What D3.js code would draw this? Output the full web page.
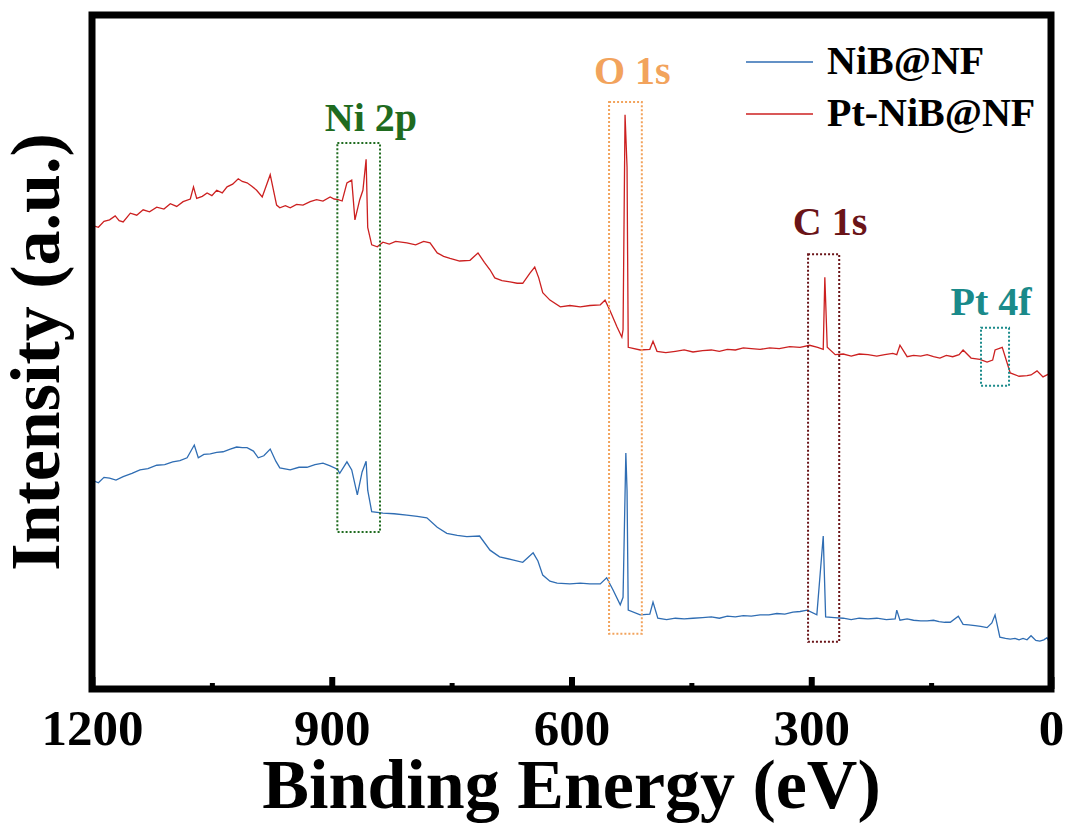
<!DOCTYPE html>
<html>
<head>
<meta charset="utf-8">
<script src="https://cdnjs.cloudflare.com/ajax/libs/d3/7.8.5/d3.min.js"></script>
<style>
  body { margin: 0; background: #fff; }
  svg text { font-family: "Liberation Serif", Tinos, "DejaVu Serif", "Noto Serif", serif; font-weight: bold; }
</style>
</head>
<body>
<div id="chart"></div>
<script>
// XPS survey data (binding energy in eV, intensity in a.u.)
var redEnergy = [1200, 1192, 1185, 1178, 1171, 1166, 1161, 1152, 1144, 1136, 1128, 1119, 1110, 1102, 1094, 1086,
  1077, 1073, 1069, 1062, 1056, 1050, 1044, 1037, 1031, 1024, 1017, 1012, 1006, 1000, 994, 987, 977, 969, 965,
  958, 952, 944, 936, 927, 919, 911, 902, 897, 892, 887, 881, 875, 871, 865, 861, 857, 855, 850, 843, 836, 828,
  820, 806, 795, 785, 777, 768, 760, 752, 740, 727, 717, 709, 702, 696, 687, 677, 668, 661, 652, 646, 641, 636,
  627, 614, 602, 589, 577, 564, 558, 552, 543, 537, 535.5, 533, 530.5, 529, 514, 502, 498, 493, 482, 470, 459, 448,
  436, 425, 415, 405, 395, 385, 375, 364, 352, 340, 327, 314, 302, 292, 285, 283, 280, 270, 260, 250, 240, 229, 218,
  208, 198, 193, 189, 180, 172, 163, 155, 147, 139, 131, 123, 115, 110, 100, 89, 80, 73, 70, 61, 51, 40, 30, 25,
  17.5, 10, 5, 0];
var redIntensity = [68.8, 68.5, 69.4, 69.6, 70.2, 69.5, 69.3, 70.6, 70.3, 71.1, 70.8, 71.5, 71.2, 72.0, 71.6, 72.3,
  72.7, 74.5, 72.8, 73.1, 73.6, 73.2, 74.0, 73.6, 74.5, 74.9, 75.7, 75.3, 75.1, 74.6, 74.0, 73.0, 76.3, 71.8, 71.4,
  71.7, 71.4, 71.9, 71.8, 72.3, 72.6, 72.4, 73.0, 72.7, 72.6, 72.4, 75.1, 75.5, 69.6, 72.6, 74.0, 78.6, 68.5, 65.9,
  65.6, 66.3, 66.0, 66.4, 66.2, 65.9, 66.4, 66.2, 64.7, 64.2, 63.9, 63.5, 63.6, 64.7, 63.3, 62.2, 61.0, 60.6, 60.4,
  60.2, 60.2, 61.7, 62.6, 61.0, 58.8, 57.7, 56.7, 56.9, 56.7, 56.9, 57.0, 57.7, 56.2, 53.7, 52.2, 53.3, 85.2, 77.4,
  50.7, 50.3, 50.4, 51.6, 50.1, 49.9, 50.1, 50.3, 50.0, 50.2, 50.3, 50.1, 50.4, 50.3, 50.6, 50.5, 50.4, 50.6, 50.5,
  50.8, 50.7, 51.0, 50.7, 50.4, 61.1, 50.7, 49.6, 49.7, 49.4, 49.7, 49.6, 49.4, 49.6, 49.8, 49.6, 51.0, 49.3, 49.5,
  49.4, 49.6, 49.3, 49.1, 49.5, 49.3, 49.6, 50.3, 49.1, 48.9, 48.5, 48.8, 50.3, 50.7, 46.9, 46.4, 46.5, 46.6, 47.2,
  46.3, 46.6, 46.9, 45.5];

var blueEnergy = [1200, 1192, 1185, 1178, 1170, 1161, 1150, 1140, 1130, 1119, 1109, 1099, 1090, 1081, 1072, 1067,
  1060, 1052, 1044, 1036, 1027, 1019, 1012, 1006, 998, 992, 985, 977, 970, 965, 952, 941, 931, 921, 911, 902, 893,
  890, 881, 875, 868, 862, 857, 855, 850, 836, 822, 806, 793, 781, 768, 756, 743, 731, 715, 702, 690, 675, 661, 648,
  642, 636, 627, 618, 602, 589, 577, 564, 556, 548, 539, 535.5, 532, 530.5, 529, 514, 502, 498, 492, 481, 470, 459,
  448, 436, 425, 415, 405, 395, 385, 375, 364, 353, 343, 333, 323, 314, 305, 293, 285, 282, 271, 260, 250, 240, 229,
  218, 206, 195, 193, 189, 180, 172, 163, 155, 147, 140, 133, 126, 116, 110, 103, 95, 88, 80, 74, 70, 64, 57, 51,
  45, 40, 35, 30, 25, 19, 14, 9, 5, 0];
var blueIntensity = [31.0, 30.6, 31.4, 31.3, 31.0, 31.5, 32.0, 32.5, 32.7, 33.2, 33.3, 33.7, 33.9, 34.3, 36.2, 34.3,
  34.8, 34.9, 35.1, 35.2, 35.6, 35.9, 35.8, 35.8, 35.3, 34.3, 34.6, 35.6, 33.8, 32.8, 32.5, 32.9, 32.9, 33.3, 33.5,
  33.1, 32.6, 32.0, 33.7, 32.5, 28.8, 32.2, 33.8, 29.5, 26.3, 26.1, 26.0, 25.8, 25.6, 25.4, 24.0, 23.1, 22.8, 22.6,
  22.7, 20.6, 19.6, 19.2, 18.8, 20.2, 19.0, 16.9, 16.0, 15.7, 15.6, 15.7, 15.6, 15.6, 16.5, 14.7, 12.5, 13.6, 35.0,
  29.5, 11.7, 11.0, 11.1, 12.9, 10.5, 10.3, 10.5, 10.4, 10.5, 10.6, 10.7, 10.5, 10.8, 10.7, 10.9, 10.8, 11.0, 11.0,
  11.2, 11.1, 11.4, 11.5, 11.7, 11.0, 22.7, 10.7, 10.6, 10.5, 10.3, 10.5, 10.4, 10.5, 10.3, 10.4, 11.7, 10.2, 10.4,
  10.2, 10.1, 10.1, 10.2, 10.0, 9.9, 9.9, 10.8, 9.6, 9.5, 9.4, 9.3, 9.1, 9.8, 11.0, 7.7, 7.5, 7.4, 7.5, 7.3, 7.5,
  7.3, 7.9, 7.2, 7.1, 7.3, 7.6, 6.5];

var seriesNames = ["NiB@NF", "Pt-NiB@NF"];
var seriesColors = ["#2f6db3", "#cc2020"];

var majorTicks = [1200, 900, 600, 300, 0];
var minorTicks = [1050, 750, 450, 150];

// peak boxes: label, energy span, intensity span, label anchor
var peakLabels = ["Ni 2p", "O 1s", "C 1s", "Pt 4f"];
var peakColors = ["#1f6b1f", "#f2a35c", "#6a1418", "#1a8a8a"];
var boxHigh = [893, 553, 304, 87.6];
var boxLow = [839.6, 512, 265, 52.5];
var boxTop = [81.0, 87.1, 64.5, 53.6];
var boxBottom = [23.3, 8.2, 7.0, 45.0];
var labelEnergy = [851, 524, 276.5, 75];
var labelLevel = [82.8, 89.8, 67.4, 55.5];

var svgWidth = 1068;
var svgHeight = 827;

var margin = { top: 15, right: 17, bottom: 138, left: 92 };
var width = svgWidth - margin.left - margin.right;
var height = svgHeight - margin.top - margin.bottom;

var svg = d3.select("#chart")
  .append("svg")
  .attr("width", svgWidth)
  .attr("height", svgHeight);

var chartGroup = svg.append("g")
  .attr("transform", `translate(${margin.left}, ${margin.top})`);

// Step 1: scales
var xScale = d3.scaleLinear().domain([1200, 0]).range([0, width]);
var yScale = d3.scaleLinear().domain([0, 100]).range([height, 0]);

// Step 2: spectra
var redData = redEnergy.map((e, i) => ({ e: e, v: redIntensity[i] }));
var blueData = blueEnergy.map((e, i) => ({ e: e, v: blueIntensity[i] }));

var line = d3.line()
  .x(d => xScale(d.e))
  .y(d => yScale(d.v));

chartGroup.append("path")
  .datum(blueData)
  .attr("fill", "none")
  .attr("stroke", seriesColors[0])
  .attr("stroke-width", 1.3)
  .attr("d", line);

chartGroup.append("path")
  .datum(redData)
  .attr("fill", "none")
  .attr("stroke", seriesColors[1])
  .attr("stroke-width", 1.3)
  .attr("d", line);

// Step 3: dotted peak boxes and labels
peakLabels.forEach(function(lbl, i) {
  chartGroup.append("rect")
    .attr("x", xScale(boxHigh[i]))
    .attr("y", yScale(boxTop[i]))
    .attr("width", xScale(boxLow[i]) - xScale(boxHigh[i]))
    .attr("height", yScale(boxBottom[i]) - yScale(boxTop[i]))
    .attr("fill", "none")
    .attr("stroke", peakColors[i])
    .attr("stroke-width", 2)
    .attr("stroke-dasharray", "2,2");

  chartGroup.append("text")
    .attr("x", xScale(labelEnergy[i]))
    .attr("y", yScale(labelLevel[i]))
    .attr("text-anchor", "middle")
    .attr("font-size", "40px")
    .attr("fill", peakColors[i])
    .text(lbl);
});

// Step 4: frame and ticks
chartGroup.append("g")
  .attr("transform", `translate(0, ${height})`)
  .call(d3.axisBottom(xScale).tickValues(minorTicks).tickSize(-6).tickFormat(""))
  .call(g => g.select(".domain").remove())
  .call(g => g.selectAll("line").attr("stroke", "#000").attr("stroke-width", 5));

chartGroup.append("g")
  .attr("transform", `translate(0, ${height})`)
  .call(d3.axisBottom(xScale).tickValues(majorTicks).tickSize(-12).tickPadding(20).tickFormat(d3.format("d")))
  .call(g => g.select(".domain").remove())
  .call(g => g.selectAll("line").attr("stroke", "#000").attr("stroke-width", 6))
  .call(g => g.selectAll("text")
    .attr("font-size", "51px")
    .attr("fill", "#000"));

chartGroup.append("rect")
  .attr("x", 0)
  .attr("y", 0)
  .attr("width", width)
  .attr("height", height)
  .attr("fill", "none")
  .attr("stroke", "#000")
  .attr("stroke-width", 7);

// Step 5: legend
seriesNames.forEach(function(name, i) {
  var ly = 47 + i * 52;
  chartGroup.append("line")
    .attr("x1", 654).attr("x2", 721)
    .attr("y1", ly).attr("y2", ly)
    .attr("stroke", seriesColors[i])
    .attr("stroke-width", 1.5);
  chartGroup.append("text")
    .attr("x", 735)
    .attr("y", ly + 12)
    .attr("font-size", "40px")
    .attr("fill", "#000")
    .text(name);
});

// Step 6: axis titles
svg.append("text")
  .attr("transform", `translate(${margin.left + width / 2}, 808)`)
  .attr("text-anchor", "middle")
  .attr("font-size", "70px")
  .attr("fill", "#000")
  .text("Binding Energy (eV)");

svg.append("text")
  .attr("transform", `translate(59, ${margin.top + height / 2}) rotate(-90)`)
  .attr("text-anchor", "middle")
  .attr("font-size", "70px")
  .attr("fill", "#000")
  .text("Intensity (a.u.)");
</script>
</body>
</html>
